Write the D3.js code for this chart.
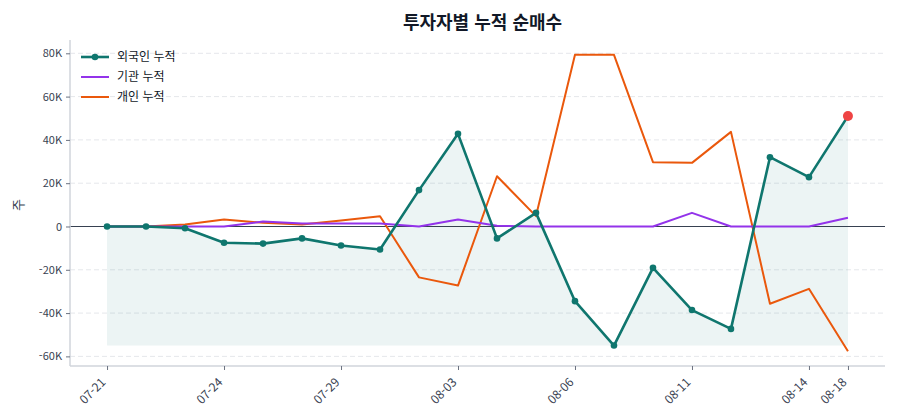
<!DOCTYPE html>
<html lang="ko">
<head>
<meta charset="utf-8">
<title>투자자별 누적 순매수</title>
<style>
body { margin: 0; background: #fff; }
* { font-family: "Noto Sans CJK KR", "Noto Sans", sans-serif; }
</style>
<script src="https://cdn.jsdelivr.net/npm/d3@7"></script>
</head>
<body>
<script>
// trading days (MM-DD)
var dates = ["07-21", "07-22", "07-23", "07-24", "07-25", "07-28", "07-29", "07-30", "07-31", "08-03",
             "08-04", "08-05", "08-06", "08-07", "08-08", "08-11", "08-12", "08-13", "08-14", "08-18"];
var shownDates = ["07-21", "07-24", "07-29", "08-03", "08-06", "08-11", "08-14", "08-18"];

// cumulative net buying, shares
var foreign = [0, 0, -800, -7500, -7900, -5500, -8800, -10600, 16800, 42800,
               -5500, 6300, -34500, -55000, -19100, -38600, -47300, 32000, 22800, 51000];
var institution = [0, 0, 0, 0, 2300, 1400, 1400, 1400, 0, 3200,
                   300, 0, 0, 0, 0, 6300, 0, 0, 0, 4000];
var individual = [0, 0, 900, 3200, 1700, 900, 2800, 4700, -23500, -27300,
                  23200, 4800, 79300, 79300, 29700, 29400, 43700, -35700, -28800, -57600];
var yTicks = [-60000, -40000, -20000, 0, 20000, 40000, 60000, 80000];

var seriesList = [
    { name: "외국인 누적", values: foreign, color: "#0f766e", width: 2.6, dots: true },
    { name: "기관 누적", values: institution, color: "#9333ea", width: 2, dots: false },
    { name: "개인 누적", values: individual, color: "#ea580c", width: 2, dots: false }
];

var width = 900,
    height = 420,
    margin = { top: 40, right: 15, bottom: 54, left: 70 };

var svg = d3.select("body").append("svg")
    .attr("width", width)
    .attr("height", height);

var x = d3.scalePoint()
    .domain(dates)
    .range([margin.left, width - margin.right])
    .padding(0.95);

var allVals = foreign.concat(institution, individual);
var yMin = d3.min(allVals), yMax = d3.max(allVals), pad = (yMax - yMin) * 0.05;
var y = d3.scaleLinear()
    .domain([yMin - pad, yMax + pad])
    .range([height - margin.bottom, margin.top]);

// grid
svg.append("g")
    .selectAll("line")
    .data(yTicks)
    .enter()
    .append("line")
        .attr("x1", margin.left)
        .attr("x2", width - margin.right)
        .attr("y1", function(d) { return y(d); })
        .attr("y2", function(d) { return y(d); })
        .style("stroke", "#e5e7eb")
        .style("stroke-width", "1px")
        .style("stroke-dasharray", "5,3");

// area under foreign line down to its minimum
var fMin = d3.min(foreign);
var area = d3.area()
    .x(function(d, i) { return x(dates[i]); })
    .y0(y(fMin))
    .y1(function(d) { return y(d); });

svg.append("path")
    .datum(foreign)
    .attr("d", area)
    .style("fill", "#0f766e")
    .style("fill-opacity", 0.08);

// zero line
svg.append("line")
    .attr("x1", margin.left)
    .attr("x2", width - margin.right)
    .attr("y1", y(0))
    .attr("y2", y(0))
    .style("stroke", "#374151")
    .style("stroke-width", "1.2px");

// axes
var fmtK = function(d) { return d === 0 ? "0" : (d / 1000) + "K"; };

var yAxis = svg.append("g")
    .attr("transform", "translate(" + margin.left + ",0)")
    .call(d3.axisLeft(y).tickValues(yTicks).tickFormat(fmtK).tickSize(4).tickPadding(4));

var xAxis = svg.append("g")
    .attr("transform", "translate(0," + (height - margin.bottom) + ")")
    .call(d3.axisBottom(x).tickValues(shownDates).tickSize(4).tickPadding(6));

[yAxis, xAxis].forEach(function(ax) {
    ax.select(".domain").style("stroke", "#d1d5db").style("stroke-width", "1.5px");
    ax.selectAll(".tick line").style("stroke", "#6b7280");
    ax.selectAll(".tick text")
        .style("fill", "#374151")
        .style("font-size", "11px");
});
yAxis.select(".domain").attr("d", "M0," + margin.top + "V" + (height - margin.bottom));
xAxis.select(".domain").attr("d", "M" + margin.left + ",0H" + (width - margin.right));

// rotated date labels, right end under the tick
xAxis.selectAll(".tick text")
    .attr("x", 0)
    .attr("y", 0)
    .attr("dy", 0)
    .attr("text-anchor", "end")
    .attr("transform", "translate(-1,17) rotate(-45)")
    .style("font-size", "12px");

// lines
var line = d3.line()
    .x(function(d, i) { return x(dates[i]); })
    .y(function(d) { return y(d); });

seriesList.slice().reverse().forEach(function(s) {
    svg.append("path")
        .datum(s.values)
        .attr("d", line)
        .style("fill", "none")
        .style("stroke", s.color)
        .style("stroke-width", s.width + "px")
        .style("stroke-linejoin", "round");
});

svg.selectAll("circle.fdot")
    .data(foreign)
    .enter()
    .append("circle")
        .attr("class", "fdot")
        .attr("cx", function(d, i) { return x(dates[i]); })
        .attr("cy", function(d) { return y(d); })
        .attr("r", 3.3)
        .style("fill", "#0f766e");

// highlight last value
var last = foreign.length - 1;
svg.append("circle")
    .attr("cx", x(dates[last]))
    .attr("cy", y(foreign[last]))
    .attr("r", 5)
    .style("fill", "#ef4444");

// title and y label
svg.append("text")
    .attr("x", (margin.left + width - margin.right) / 2 + 5)
    .attr("y", 29)
    .attr("text-anchor", "middle")
    .style("font-size", "18px")
    .style("font-weight", "bold")
    .style("fill", "#111827")
    .text("투자자별 누적 순매수");

svg.append("text")
    .attr("transform", "translate(23,205) rotate(-90)")
    .attr("text-anchor", "middle")
    .style("font-size", "13px")
    .style("fill", "#374151")
    .text("주");

// legend
var legend = svg.append("g").attr("transform", "translate(81,57)");
seriesList.forEach(function(s, i) {
    var g = legend.append("g").attr("transform", "translate(0," + (i * 20) + ")");
    g.append("line")
        .attr("x1", 0).attr("x2", 28)
        .style("stroke", s.color)
        .style("stroke-width", s.width + "px");
    if (s.dots) {
        g.append("circle").attr("cx", 14).attr("r", 3.3).style("fill", s.color);
    }
    g.append("text")
        .attr("x", 36)
        .attr("dy", "0.35em")
        .style("font-size", "12px")
        .style("fill", "#111827")
        .text(s.name);
});
</script>
</body>
</html>
